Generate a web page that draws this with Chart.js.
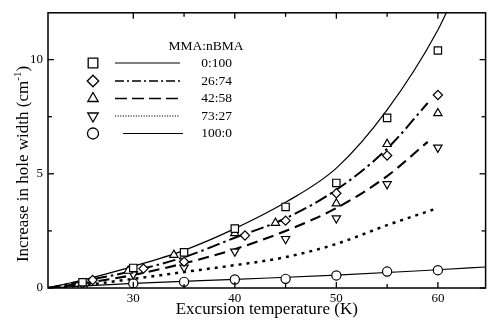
<!DOCTYPE html>
<html><head><meta charset="utf-8">
<script src="https://cdn.jsdelivr.net/npm/chart.js@4/dist/chart.umd.min.js"></script>
<style>html,body{margin:0;padding:0;background:#fff}</style>
</head><body>
<canvas id="c" width="492" height="320"></canvas>
<script>
// ---- data ----
const legendTitle = 'MMA:nBMA';
const seriesLabels = ['0:100', '26:74', '42:58', '73:27', '100:0'];

// measured points (temperature K, hole width increase cm^-1)
const pts0_100_T = [25, 30, 35, 40, 45, 50, 55, 60];
const pts0_100_W = [0.25, 0.88, 1.56, 2.6, 3.55, 4.6, 7.45, 10.4];
const pts26_74_T = [26, 31, 35, 41, 45, 50, 55, 60];
const pts26_74_W = [0.35, 0.85, 1.15, 2.3, 2.95, 4.15, 5.8, 8.45];
const pts42_58_T = [25, 29.5, 34, 40, 44, 50, 55, 60];
const pts42_58_W = [0.2, 0.75, 1.45, 2.4, 2.85, 3.7, 6.3, 7.65];
const pts73_27_T = [25, 30, 35, 40, 45, 50, 55, 60];
const pts73_27_W = [0.15, 0.6, 0.9, 1.6, 2.15, 3.05, 4.55, 6.15];
const pts100_0_T = [25, 30, 35, 40, 45, 50, 55, 60];
const pts100_0_W = [0.05, 0.2, 0.27, 0.37, 0.4, 0.55, 0.72, 0.78];

// fitted curves
const fit0_100_T = [21.6, 25, 30, 35, 40, 45, 50, 55, 60, 62];
const fit0_100_W = [0, 0.35, 0.95, 1.65, 2.6, 3.75, 5.25, 7.8, 11.3, 13.2];
const fit26_74_T = [21.6, 25, 30, 35, 40, 45, 50, 55, 59];
const fit26_74_W = [0, 0.3, 0.75, 1.35, 2.2, 3.05, 4.3, 6.1, 8.1];
const fit42_58_T = [21.6, 25, 30, 35, 40, 45, 50, 55, 59];
const fit42_58_W = [0, 0.2, 0.57, 1.08, 1.7, 2.5, 3.5, 4.9, 6.4];
const fit73_27_T = [21.6, 25, 30, 35, 40, 45, 50, 55, 60];
const fit73_27_W = [0, 0.12, 0.4, 0.7, 1.0, 1.35, 1.93, 2.75, 3.5];
const fit100_0_T = [21.6, 30, 40, 50, 60, 64.7];
const fit100_0_W = [0, 0.2, 0.38, 0.56, 0.8, 0.92];

// axis ticks
const xTickVals = [30, 35, 40, 45, 50, 55, 60];
const xTickLabels = ['30', '', '40', '', '50', '', '60'];
const yTickVals = [0, 2.5, 5, 7.5, 10];
const yTickLabels = ['0', '', '5', '', '10'];

const xTitle = 'Excursion temperature (K)';
const yTitleMain = 'Increase in hole width (cm';
const yTitleSup = '-1';
const yTitleEnd = ')';

// ---- chart ----
const SERIF = "'Liberation Serif', 'Times New Roman', serif";
const toXY = (T, W) => T.map((t, i) => ({x: t, y: W[i]}));

function markerDs(T, W, style, r, rot) {
  return {data: toXY(T, W), showLine: false, pointStyle: style, pointRadius: r,
    pointRotation: rot || 0, pointBorderColor: '#000', pointBackgroundColor: '#fff',
    pointBorderWidth: 1.2, borderColor: '#000', order: 0};
}
function lineDs(T, W, dash, width) {
  return {data: toXY(T, W), showLine: true, pointRadius: 0, borderColor: '#000',
    borderWidth: width, borderDash: dash, cubicInterpolationMode: 'monotone',
    fill: false, order: 1};
}

const datasets = [
  lineDs(fit0_100_T, fit0_100_W, [], 1.2),
  lineDs(fit26_74_T, fit26_74_W, [13, 4, 2.5, 4], 2),
  lineDs(fit42_58_T, fit42_58_W, [11, 6], 2.1),
  lineDs(fit73_27_T, fit73_27_W, [3, 5], 2.5),
  lineDs(fit100_0_T, fit100_0_W, [], 1.2),
  markerDs(pts0_100_T, pts0_100_W, 'rect', 5.2),
  markerDs(pts26_74_T, pts26_74_W, 'rectRot', 4.6),
  markerDs(pts42_58_T, pts42_58_W, 'triangle', 4.8),
  markerDs(pts73_27_T, pts73_27_W, 'triangle', 4.8, 180),
  markerDs(pts100_0_T, pts100_0_W, 'circle', 4.6),
];

function drawMarker(ctx, kind, x, y, s) {
  ctx.beginPath();
  if (kind === 'square') ctx.rect(x - s, y - s, 2 * s, 2 * s);
  else if (kind === 'diamond') { ctx.moveTo(x, y - s*1.2); ctx.lineTo(x + s*1.2, y); ctx.lineTo(x, y + s*1.2); ctx.lineTo(x - s*1.2, y); ctx.closePath(); }
  else if (kind === 'up') { const r = s*1.25; ctx.moveTo(x, y - r); ctx.lineTo(x + r*0.866, y + r/2); ctx.lineTo(x - r*0.866, y + r/2); ctx.closePath(); }
  else if (kind === 'down') { const r = s*1.25; ctx.moveTo(x, y + r); ctx.lineTo(x + r*0.866, y - r/2); ctx.lineTo(x - r*0.866, y - r/2); ctx.closePath(); }
  else ctx.arc(x, y, s*1.15, 0, Math.PI * 2);
  ctx.fillStyle = '#fff'; ctx.fill(); ctx.stroke();
}

const decorPlugin = {
  id: 'decor',
  afterDraw(chart) {
    const {ctx, chartArea: a, scales: {x, y}} = chart;
    ctx.save();
    ctx.strokeStyle = '#000'; ctx.fillStyle = '#000';
    ctx.lineWidth = 1.5;
    ctx.strokeRect(a.left, a.top, a.right - a.left, a.bottom - a.top);
    ctx.lineWidth = 1.3;
    const seg = (x1, y1, x2, y2) => { ctx.beginPath(); ctx.moveTo(x1, y1); ctx.lineTo(x2, y2); ctx.stroke(); };
    xTickVals.forEach((v, i) => {
      const p = x.getPixelForValue(v); const L = xTickLabels[i] ? 6 : 4;
      seg(p, a.bottom, p, a.bottom - L); seg(p, a.top, p, a.top + L);
    });
    yTickVals.forEach((v, i) => {
      const p = y.getPixelForValue(v); const L = yTickLabels[i] ? 6 : 4;
      seg(a.left, p, a.left + L, p); seg(a.right, p, a.right - L, p);
    });
    // y axis title with superscript
    ctx.save();
    ctx.translate(22, 164); ctx.rotate(-Math.PI / 2);
    ctx.font = '17px ' + SERIF;
    const w1 = ctx.measureText(yTitleMain).width, w3 = ctx.measureText(yTitleEnd).width;
    ctx.font = '11px ' + SERIF;
    const w2 = ctx.measureText(yTitleSup).width;
    let sx = -(w1 + w2 + w3) / 2;
    ctx.textBaseline = 'alphabetic'; ctx.textAlign = 'left';
    ctx.font = '17px ' + SERIF; ctx.fillText(yTitleMain, sx, 6);
    ctx.font = '11px ' + SERIF; ctx.fillText(yTitleSup, sx + w1, -1);
    ctx.font = '17px ' + SERIF; ctx.fillText(yTitleEnd, sx + w1 + w2, 6);
    ctx.restore();
    // legend
    ctx.font = '13.5px ' + SERIF; ctx.textBaseline = 'middle';
    ctx.textAlign = 'center'; ctx.fillText(legendTitle, 206, 46);
    const rowsY = [63, 81, 98.5, 116, 133.5];
    const kinds = ['square', 'diamond', 'up', 'down', 'circle'];
    const dashes = [[], [9, 3, 2, 3], [12, 5], [1.2, 1.4], []];
    const widths = [1, 1.6, 1.6, 1, 1.2];
    const lx = [[115, 180], [115, 180], [115, 180], [115, 180], [123, 183]];
    rowsY.forEach((ry, i) => {
      ctx.lineWidth = 1.3; ctx.setLineDash([]);
      drawMarker(ctx, kinds[i], 93, ry, 4.8);
      ctx.lineWidth = widths[i]; ctx.setLineDash(dashes[i]);
      seg(lx[i][0], ry, lx[i][1], ry);
      ctx.setLineDash([]);
      ctx.fillStyle = '#000'; ctx.textAlign = 'right';
      ctx.fillText(seriesLabels[i], 232, ry);
    });
    ctx.restore();
  }
};

new Chart(document.getElementById('c'), {
  type: 'scatter',
  data: {datasets},
  options: {
    responsive: false, animation: false,
    layout: {padding: {left: 0, right: 4, top: 11, bottom: 0}},
    plugins: {legend: {display: false}, tooltip: {enabled: false}},
    scales: {
      x: {
        type: 'linear', min: 21.6, max: 64.7,
        grid: {display: false, drawTicks: false}, border: {display: false},
        afterBuildTicks: s => { s.ticks = xTickVals.map(v => ({value: v})); },
        afterFit: s => { s.height = 32; },
        ticks: {color: '#000', padding: 3, maxRotation: 0, autoSkip: false,
          font: {family: SERIF, size: 13},
          callback: (v) => { const i = xTickVals.indexOf(v); return i >= 0 ? xTickLabels[i] : ''; }},
        title: {display: true, text: xTitle, color: '#000',
          font: {family: SERIF, size: 17, lineHeight: 1}, padding: {top: 0, bottom: 2}}
      },
      y: {
        type: 'linear', min: 0, max: 12.05,
        grid: {display: false, drawTicks: false}, border: {display: false},
        afterBuildTicks: s => { s.ticks = yTickVals.map(v => ({value: v})); },
        afterFit: s => { s.width = 48; },
        ticks: {color: '#000', padding: 5, autoSkip: false,
          font: {family: SERIF, size: 13},
          callback: (v) => { const i = yTickVals.indexOf(v); return i >= 0 ? yTickLabels[i] : ''; }}
      }
    }
  },
  plugins: [decorPlugin]
});
</script>
</body></html>
